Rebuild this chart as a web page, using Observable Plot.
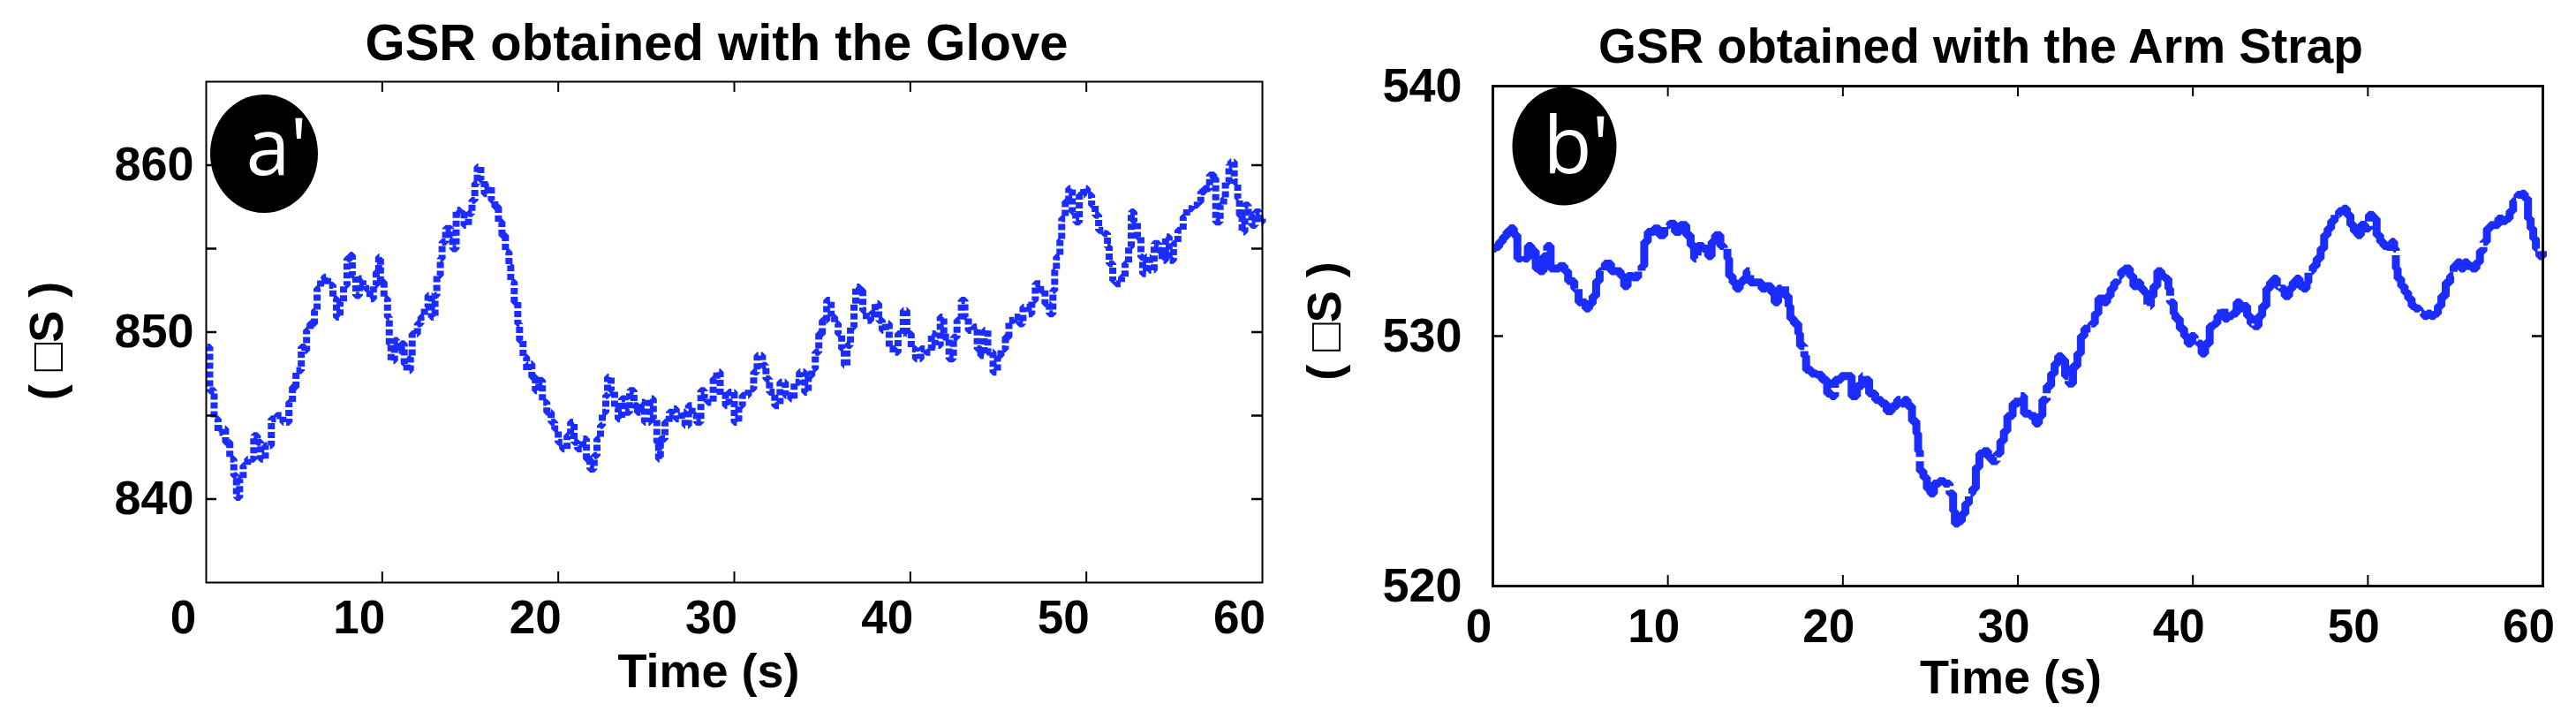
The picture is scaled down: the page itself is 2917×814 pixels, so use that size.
<!DOCTYPE html>
<html><head><meta charset="utf-8">
<script src="https://cdn.jsdelivr.net/npm/d3@7"></script>
<script src="https://cdn.jsdelivr.net/npm/@observablehq/plot@0.6"></script>
<style>
body{margin:0;background:#fff;}
#wrap{position:relative;width:2917px;height:814px;overflow:hidden;background:#fff;}
#left{position:absolute;left:0;top:0;}
#right{position:absolute;left:1460px;top:0;}
</style></head><body><div id="wrap"><div id="left"></div><div id="right"></div></div>
<script>
// ---- data ----
const gloveTime = [0.07,0.2,0.45,0.67,0.9,1.1,1.34,1.57,1.72,1.9,2.1,2.35,2.7,2.9,3.1,3.36,3.7,4.0,4.36,4.7,4.9,5.1,5.4,5.6,5.7,5.9,6.15,6.3,6.5,6.7,6.9,7.2,7.4,7.6,7.8,8.0,8.2,8.3,8.5,8.7,8.9,9.06,9.3,9.5,9.66,9.8,9.9,10.1,10.3,10.4,10.5,10.7,10.85,11.1,11.25,11.4,11.6,11.7,12.0,12.2,12.4,12.6,12.8,13.0,13.1,13.3,13.4,13.6,13.9,14.0,14.2,14.4,14.65,14.9,15.1,15.26,15.4,15.6,15.8,16.0,16.2,16.4,16.6,16.8,17.0,17.2,17.3,17.5,17.7,17.8,18.0,18.2,18.3,18.5,18.7,18.9,19.1,19.35,19.6,19.8,20.0,20.25,20.5,20.7,20.9,21.1,21.4,21.6,21.8,22.04,22.2,22.4,22.5,22.7,22.8,23.0,23.2,23.4,23.6,23.8,24.05,24.3,24.5,24.7,24.9,25.2,25.4,25.6,25.7,25.8,26.06,26.3,26.5,26.7,27.0,27.2,27.4,27.6,27.85,28.1,28.3,28.5,28.8,29.0,29.2,29.5,29.7,30.0,30.25,30.46,30.8,31.1,31.3,31.6,31.8,32.0,32.3,32.6,32.9,33.2,33.4,33.7,34.0,34.2,34.4,34.6,34.8,35.0,35.25,35.5,35.7,35.9,36.1,36.25,36.4,36.6,36.8,36.9,37.1,37.3,37.5,37.75,38.0,38.2,38.4,38.6,38.8,39.1,39.3,39.6,39.8,40.05,40.3,40.6,40.9,41.2,41.4,41.7,41.9,42.2,42.45,42.65,42.9,43.1,43.3,43.6,43.8,44.0,44.2,44.4,44.7,44.95,45.15,45.4,45.6,45.9,46.2,46.4,46.7,46.9,47.1,47.4,47.65,47.9,48.1,48.2,48.3,48.5,48.6,48.8,49.0,49.2,49.4,49.6,49.85,50.05,50.3,50.5,50.7,51.0,51.2,51.3,51.5,51.7,52.0,52.2,52.4,52.55,52.7,52.9,53.1,53.2,53.4,53.6,53.85,54.1,54.3,54.5,54.7,54.95,55.2,55.5,55.7,56.0,56.3,56.5,56.7,57.0,57.25,57.35,57.6,57.8,57.9,58.1,58.2,58.4,58.6,58.7,58.85,59.0,59.2,59.4,59.6,59.85,60.0];
const gloveGsr = [849.1,846.5,844.8,844.0,844.2,843.4,842.4,841.4,840.1,841.2,842.0,842.4,843.8,843.4,842.4,843.2,844.8,845.0,844.6,845.8,846.7,847.7,849.1,848.9,850.1,850.5,851.3,852.6,853.2,853.3,852.8,852.0,850.9,851.8,852.8,854.4,854.6,853.4,852.2,853.2,852.8,852.6,852.0,852.8,853.6,854.5,853.0,852.0,850.9,849.3,848.3,849.5,848.9,849.3,848.1,847.7,848.5,849.9,850.5,850.9,851.5,852.2,850.9,852.2,853.4,854.4,855.4,856.2,855.8,855.0,857.3,857.1,856.4,857.1,857.9,858.9,859.9,859.1,858.3,858.7,857.9,857.5,856.6,855.8,854.8,854.0,853.0,851.8,850.5,849.5,848.5,847.7,848.1,847.3,846.5,847.1,845.8,845.2,844.6,844.2,843.4,843.0,843.8,844.6,843.4,843.0,843.6,842.4,841.8,842.6,843.6,844.4,845.2,846.2,847.3,846.5,845.4,844.8,846.0,845.2,846.5,845.6,845.2,845.8,844.6,846.0,844.8,843.4,842.4,843.6,844.6,845.2,845.4,844.8,845.2,844.4,845.6,845.0,844.6,846.5,846.0,845.8,847.2,847.6,846.2,845.6,846.4,844.6,845.6,846.2,846.6,847.6,848.6,848.0,847.2,846.4,845.6,847.0,846.2,846.0,847.0,847.6,846.4,847.4,847.8,848.8,849.9,850.7,851.9,850.9,850.5,849.9,849.0,848.0,849.2,850.3,851.7,852.7,852.5,851.3,850.7,851.1,851.7,850.7,850.1,850.5,849.0,848.8,849.9,851.3,849.9,849.0,848.4,849.0,848.8,849.9,849.2,850.9,849.7,848.4,849.7,850.7,851.9,850.9,850.1,850.3,849.0,848.6,850.1,848.8,847.6,848.6,849.0,849.7,850.7,850.9,850.5,851.5,851.1,851.9,852.9,852.5,851.7,851.1,852.5,853.7,854.5,855.5,856.8,857.8,858.6,857.2,856.6,858.2,858.6,858.2,857.6,857.0,856.1,855.9,855.1,854.1,853.1,852.9,853.3,854.1,855.1,857.2,856.6,855.7,854.5,853.5,854.5,853.7,855.3,854.9,854.3,855.7,854.3,855.3,856.1,856.9,857.4,857.6,857.8,858.4,858.6,859.4,859.2,856.6,857.6,858.0,859.0,860.0,860.2,859.0,858.0,857.0,856.0,857.6,857.0,856.4,857.2,856.6,856.8];

const strapTime = [0.0,0.15,0.36,0.57,0.78,0.99,1.2,1.4,1.6,1.8,2.0,2.2,2.45,2.66,2.9,3.1,3.3,3.5,3.8,4.1,4.3,4.65,4.9,5.1,5.3,5.5,5.7,5.9,6.1,6.4,6.75,7.1,7.3,7.5,7.7,8.0,8.3,8.5,8.65,8.85,9.2,9.5,9.8,10.1,10.4,10.7,11.05,11.3,11.5,11.7,12.0,12.3,12.5,12.7,13.0,13.2,13.4,13.5,13.7,13.9,14.1,14.3,14.5,14.7,15.0,15.35,15.6,15.9,16.1,16.3,16.5,16.7,16.9,17.0,17.2,17.45,17.55,17.8,17.9,18.2,18.5,18.8,19.1,19.35,19.55,19.9,20.2,20.5,20.8,21.1,21.3,21.5,21.85,22.2,22.5,22.8,23.1,23.3,23.5,23.7,23.95,24.2,24.3,24.4,24.6,24.8,25.0,25.2,25.5,25.8,26.1,26.3,26.4,26.6,26.8,27.0,27.2,27.4,27.6,27.8,28.05,28.3,28.5,28.8,29.0,29.2,29.4,29.7,30.0,30.35,30.7,31.0,31.2,31.4,31.65,31.9,32.1,32.3,32.5,32.7,32.9,33.15,33.4,33.6,33.8,34.0,34.2,34.4,34.6,34.9,35.1,35.3,35.5,35.7,35.9,36.1,36.4,36.6,36.8,37.0,37.2,37.4,37.6,37.75,37.97,38.2,38.4,38.6,38.7,38.9,39.0,39.25,39.5,39.7,39.9,40.1,40.3,40.5,40.7,40.96,41.2,41.4,41.6,41.8,42.0,42.25,42.5,42.7,42.9,43.1,43.3,43.5,43.75,43.96,44.2,44.4,44.6,44.8,45.0,45.25,45.5,45.7,45.9,46.1,46.3,46.5,46.6,46.85,47.07,47.3,47.5,47.7,47.9,48.1,48.35,48.6,48.8,49.0,49.2,49.4,49.6,49.85,50.06,50.3,50.5,50.7,50.9,51.1,51.35,51.5,51.6,51.7,51.9,52.1,52.3,52.5,52.7,52.95,53.2,53.4,53.6,53.8,54.0,54.2,54.45,54.7,54.9,55.1,55.3,55.5,55.7,55.95,56.2,56.4,56.6,56.8,57.0,57.25,57.45,57.7,57.9,58.1,58.3,58.55,58.8,58.97,59.15,59.3,59.45,59.6,59.8,60.0];
const strapGsr = [533.5,533.57,533.77,533.97,534.17,534.31,534.04,533.1,533.2,533.1,533.6,533.4,532.7,532.6,533.2,533.6,532.7,532.7,532.8,532.6,532.2,531.9,531.35,531.35,531.1,531.3,531.6,532.2,532.6,532.9,532.6,532.6,532.4,532.0,532.4,532.35,532.6,532.8,533.77,534.17,534.3,534.04,534.44,534.5,534.17,534.44,534.04,533.63,533.1,533.6,533.5,533.2,533.77,534.04,533.6,533.5,533.1,532.4,532.15,531.9,532.15,532.3,532.6,532.15,532.15,531.9,532.0,531.75,531.35,531.9,532.0,531.6,531.2,530.7,530.5,530.1,529.6,529.2,528.65,528.5,528.45,528.25,527.7,527.6,528.25,528.4,528.4,527.6,528.0,528.4,528.25,527.7,527.45,527.3,527.0,527.2,527.45,527.3,527.45,527.2,526.6,526.1,525.4,524.6,524.35,523.9,523.7,524.1,524.2,524.1,523.7,523.0,522.5,522.6,522.9,523.3,523.7,523.9,524.75,525.3,525.4,525.15,525.0,525.3,525.8,526.2,526.8,527.3,527.6,526.9,526.8,526.5,526.8,527.45,528.0,528.5,528.9,529.2,529.05,528.4,528.1,528.8,529.3,530.0,530.3,530.3,530.5,530.9,531.5,531.35,531.6,531.9,532.15,532.4,532.6,532.7,532.4,532.0,532.15,531.9,531.75,531.2,531.6,532.0,532.6,532.4,532.3,531.9,531.35,530.9,530.7,530.3,530.0,529.7,530.0,529.9,529.7,529.3,529.7,530.4,530.5,530.8,531.1,530.7,530.8,530.9,531.35,531.1,531.2,530.8,530.5,530.4,530.8,531.2,531.9,532.15,532.3,532.0,531.9,531.6,531.9,532.15,532.3,532.0,531.9,532.15,532.6,532.8,533.1,533.5,534.04,534.3,534.6,534.85,535.0,535.1,534.85,534.45,534.2,534.04,534.45,534.3,534.85,534.7,534.04,533.77,533.6,533.57,533.77,533.5,532.7,532.3,532.0,531.75,531.5,531.2,531.1,530.9,530.8,530.9,530.8,530.9,531.2,531.6,532.15,532.4,532.8,532.95,532.7,532.95,532.8,532.7,532.95,533.4,533.77,534.3,534.44,534.44,534.7,534.6,534.7,535.0,535.4,535.65,535.7,535.5,534.7,534.3,533.9,533.5,533.2,533.4];

const xTicks = [0, 10, 20, 30, 40, 50, 60];
const xInnerTicks = [10, 20, 30, 40, 50];
const gloveYLabels = [840, 850, 860];
const gloveYTicks = [840, 845, 850, 855, 860];
const strapYLabels = [520, 530, 540];
const strapYTicks = [520, 530, 540];
const titles = ["GSR obtained with the Glove", "GSR obtained with the Arm Strap"];
const xLabel = "Time (s)";
const yLabel = "( \u25A1S )";
const badges = ["a'", "b'"];

// ---- rendering ----
const BLUE = "#1a2cff";
const FONT = "'Liberation Sans', Arial, Helvetica, sans-serif";

function ellipseSymbol(rx, ry) {
  const k = 0.5523;
  return {draw(c) {
    c.moveTo(rx, 0);
    c.bezierCurveTo(rx, ry * k, rx * k, ry, 0, ry);
    c.bezierCurveTo(-rx * k, ry, -rx, ry * k, -rx, 0);
    c.bezierCurveTo(-rx, -ry * k, -rx * k, -ry, 0, -ry);
    c.bezierCurveTo(rx * k, -ry, rx, -ry * k, rx, 0);
    c.closePath();
  }};
}

function panel(cfg) {
  const data = cfg.time.map((t, i) => ({t, v: cfg.gsr[i]}));
  const fw = cfg.width - cfg.mL - cfg.mR;
  const fh = 814 - cfg.mT - cfg.mB;
  const tick = 12;
  return Plot.plot({
    width: cfg.width, height: 814,
    marginLeft: cfg.mL, marginRight: cfg.mR, marginTop: cfg.mT, marginBottom: cfg.mB,
    x: {domain: [0, 60]},
    y: {domain: cfg.yDomain},
    style: {fontFamily: FONT, background: "white", overflow: "visible"},
    marks: [
      Plot.line(data, {x: "t", y: "v", curve: "step-after", stroke: BLUE, strokeWidth: cfg.lw,
        strokeDasharray: cfg.dash, strokeLinecap: "butt", strokeLinejoin: "miter"}),
      Plot.ruleX(xInnerTicks, {insetBottom: fh - tick, stroke: "black", strokeWidth: 2}),
      Plot.ruleX(xInnerTicks, {insetTop: fh - tick, stroke: "black", strokeWidth: 2}),
      Plot.ruleY(cfg.yTicks, {insetRight: fw - tick, stroke: "black", strokeWidth: 2.5}),
      Plot.ruleY(cfg.yTicks, {insetLeft: fw - tick, stroke: "black", strokeWidth: 2.5}),
      Plot.frame({stroke: "black", strokeWidth: cfg.frameW}),
      Plot.axisX({ticks: xTicks, tickSize: 0, tickPadding: cfg.xPad, dx: cfg.xdx, label: null,
        fontSize: 53, fontWeight: "bold", fill: "black", fontFamily: FONT}),
      Plot.axisY({ticks: cfg.yLabels, tickSize: 0, tickPadding: cfg.yPad, label: null,
        fontSize: 54, fontWeight: "bold", fill: "black", fontFamily: FONT}),
      Plot.text([cfg.title], {text: d => d, frameAnchor: "top", dx: cfg.tdx, dy: cfg.tdy, lineAnchor: "bottom",
        fontSize: cfg.tfs, fontWeight: "bold", fill: "black", fontFamily: FONT}),
      Plot.text([xLabel], {text: d => d, frameAnchor: "bottom", dx: cfg.ldx, dy: cfg.ldy, lineAnchor: "bottom",
        fontSize: 54, fontWeight: "bold", fill: "black", fontFamily: FONT}),
      Plot.text([yLabel], {text: d => d, frameAnchor: "left", rotate: -90, dx: cfg.ydx, dy: cfg.ydy,
        lineAnchor: "middle", textAnchor: "middle", fontSize: 54, fontWeight: "bold", fill: "black", fontFamily: FONT}),
      Plot.dot([cfg.badge], {frameAnchor: "top-left", dx: cfg.bdx, dy: cfg.bdy, r: 60,
        symbol: ellipseSymbol(cfg.brx, cfg.bry), fill: "black", stroke: "none"}),
      Plot.text([cfg.badge], {text: d => d, frameAnchor: "top-left", dx: cfg.btx, dy: cfg.bty, lineAnchor: "bottom",
        textAnchor: "start", fontSize: 90, fontWeight: "normal", fill: "white", fontFamily: "'Open Sans', sans-serif"})
    ]
  });
}

document.getElementById("left").append(panel({
  time: gloveTime, gsr: gloveGsr, width: 1460, mL: 233, mR: 31, mT: 92, mB: 155,
  yDomain: [835, 865], yTicks: gloveYTicks, yLabels: gloveYLabels,
  lw: 8, dash: "7,3", frameW: 2,
  xPad: 20, xdx: -26, yPad: 14,
  title: titles[0], tfs: 58, tdx: -20, tdy: -25,
  ldx: -29, ldy: 118, ydx: -180, ydy: 10,
  badge: badges[0], bdx: 65.5, bdy: 81.6, brx: 61, bry: 67, btx: 45, bty: 105
}));
document.getElementById("right").append(panel({
  time: strapTime, gsr: strapGsr, width: 1457, mL: 230, mR: 38, mT: 97, mB: 151,
  yDomain: [520, 540], yTicks: strapYTicks, yLabels: strapYLabels,
  lw: 9, dash: "90,5", frameW: 3,
  xPad: 26, xdx: -16, yPad: 35,
  title: titles[1], tfs: 55, tdx: -42, tdy: -27,
  ldx: -8, ldy: 121, ydx: -190, ydy: -17,
  badge: badges[1], bdx: 81, bdy: 68, brx: 59, bry: 67, btx: 57, bty: 98
}));
</script></body></html>
